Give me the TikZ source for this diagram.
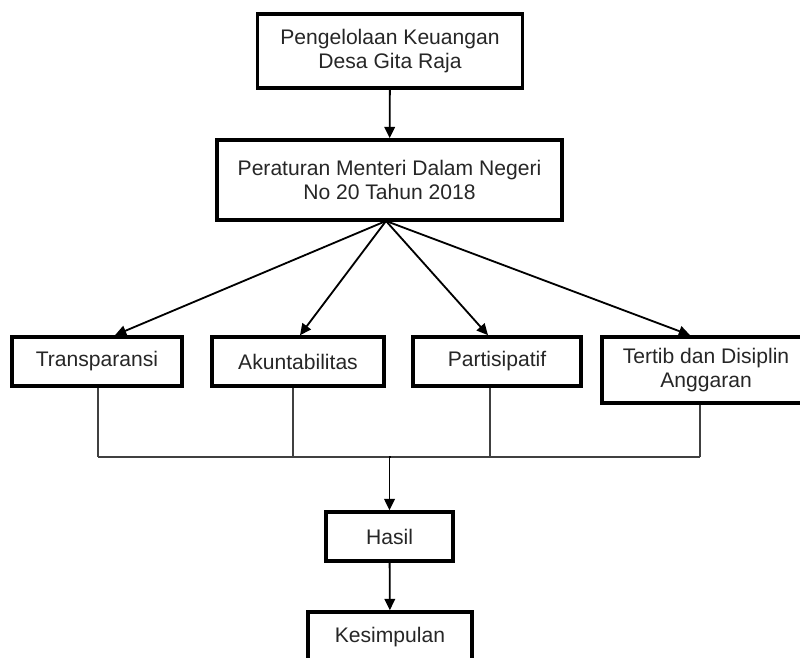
\documentclass[tikz,border=0pt]{standalone}
\usepackage{fontspec}
\setmainfont{Liberation Sans}
\usetikzlibrary{arrows.meta,calc}

\begin{document}
\begin{tikzpicture}
  [x=0.025cm,y=-0.025cm,
   every node/.style={draw,rectangle,line width=2.6pt,align=center,inner sep=0pt,
     text=black!85,font=\fontsize{15}{17.2}\selectfont},
   bx/.style 2 args={minimum width=#1*0.025cm,minimum height=#2*0.025cm},
   arr/.style={line width=1.3pt,-{Triangle[length=8pt,width=7.5pt]}},
   bus/.style={line width=1pt,black!75}]
  \clip (0,0) rectangle (800,657);
  \node[bx={265}{74}] (pk) at (390,51) {Pengelolaan Keuangan\\Desa Gita Raja};
  \node[bx={345}{80}] (pm) at (389.5,180) {Peraturan Menteri Dalam Negeri\\No 20 Tahun 2018};
  \node[bx={170}{49}] (tr) at (97,361.5) {Transparansi};
  \node[bx={172}{49}] (ak) at (298,361.5) {Akuntabilitas};
  \node[bx={168}{49}] (pa) at (497,361.5) {Partisipatif};
  \node[bx={208}{66}] (td) at (706,370) {Tertib dan Disiplin\\Anggaran};
  \node[bx={127}{49}] (ha) at (389.5,536.5) {Hasil};
  \node[bx={164}{50}] (ke) at (390,637) {Kesimpulan};

  \coordinate (fan) at (386,221);
  \coordinate (bus) at (390,457);

  \draw[arr] (pk) -- (pm);
  \foreach \to/\dx in {tr/18,ak/2,pa/-9,td/-16}
    \draw[arr] (fan) -- ($(\to.north)+(\dx,0)$);

  \foreach \from/\dx in {tr/1,ak/-5,pa/-7,td/-6}
    \draw[bus] ($(\from.south)+(\dx,0)$) -- ($(\from.south |- bus)+(\dx,0)$);
  \draw[bus] ($(tr.south |- bus)+(1,0)$) -- ($(td.south |- bus)+(-6,0)$);
  \draw[arr] (bus) -- (bus -| ha.north) -- (ha.north);
  \draw[arr] (ha) -- (ke);
\end{tikzpicture}
\end{document}
